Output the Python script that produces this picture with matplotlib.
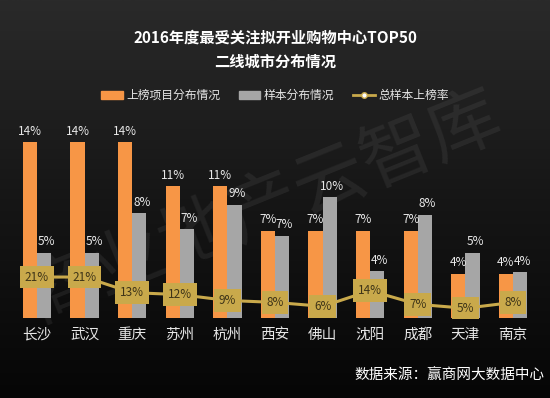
import numpy as np
import matplotlib
matplotlib.use("Agg")
from matplotlib import pyplot as plt
from matplotlib.patches import Patch
from matplotlib.lines import Line2D

plt.rcParams['font.family'] = ['Noto Sans CJK SC', 'DejaVu Sans']

cities = ['长沙', '武汉', '重庆', '苏州', '杭州', '西安', '佛山', '沈阳', '成都', '天津', '南京']
# 上榜项目分布情况 (%)
listed = [14.3, 14.3, 14.3, 10.7, 10.7, 7.1, 7.1, 7.1, 7.1, 3.6, 3.6]
# 样本分布情况 (%)
sample = [5.3, 5.3, 8.5, 7.2, 9.2, 6.7, 9.8, 3.8, 8.4, 5.3, 3.7]
# 总样本上榜率 (%)
rate = [21, 21, 13, 12, 9, 8, 6, 14, 7, 5, 8]

orange = '#F79646'
grey = '#A6A6A6'
gold = '#C9A94B'

fig = plt.figure(figsize=(5.5, 3.98), dpi=100)

# dark background gradient
bg = fig.add_axes([0, 0, 1, 1], zorder=-10)
grad = np.linspace(0, 1, 256).reshape(-1, 1)
bg.imshow(grad, aspect='auto', cmap=matplotlib.colors.LinearSegmentedColormap.from_list(
    'bgc', ['#2a2a2a', '#161616', '#060606']), extent=[0, 1, 0, 1])
bg.set_xlim(0, 1)
bg.set_ylim(0, 1)
bg.axis('off')
# watermark
bg.text(0.48, 0.48, '商业地产云智库', fontsize=52, color='#8a8a8a', alpha=0.13,
        rotation=22, ha='center', va='center')

ax = fig.add_axes([0.024, 0.201, 0.952, 0.495])
ax.set_facecolor('none')
x = np.arange(len(cities))
w = 0.3
ax.bar(x - w / 2, listed, w, color=orange, zorder=2)
ax.bar(x + w / 2, sample, w, color=grey, zorder=2)
for xi, v in zip(x, listed):
    ax.text(xi - w / 2, v + 0.35, '%d%%' % round(v), ha='center', va='bottom',
            fontsize=8.5, color='#e8e8e8')
for xi, v in zip(x, sample):
    ax.text(xi + w / 2 + 0.05, v + 0.35, '%d%%' % round(v), ha='center', va='bottom',
            fontsize=8.5, color='#e8e8e8')
ax.set_xlim(-0.5, len(cities) - 0.5)
ax.set_ylim(0, 16)
ax.set_xticks(x)
ax.set_xticklabels(cities, fontsize=10.5, color='#e6e6e6')
ax.tick_params(axis='x', length=0, pad=7)
ax.set_yticks([])
for s in ax.spines.values():
    s.set_visible(False)

ax2 = ax.twinx()
ax2.plot(x, rate, color=gold, lw=2.2, marker='o', ms=4, mfc='white', mec=gold, zorder=3)
for xi, v in zip(x, rate):
    ax2.text(xi, v, '%d%%' % v, ha='center', va='center', fontsize=8.5, color='#3e3418',
             zorder=5, bbox=dict(boxstyle='square,pad=0.4', fc=gold, ec='none'))
ax2.set_ylim(0, 101)
ax2.set_yticks([])
for s in ax2.spines.values():
    s.set_visible(False)

fig.text(0.5, 0.905, '2016年度最受关注拟开业购物中心TOP50', ha='center', va='center',
         fontsize=11, fontweight='bold', color='white')
fig.text(0.5, 0.845, '二线城市分布情况', ha='center', va='center',
         fontsize=11, fontweight='bold', color='white')

handles = [Patch(color=orange), Patch(color=grey),
           Line2D([], [], color=gold, lw=2, marker='o', ms=4, mfc='white', mec=gold)]
leg = fig.legend(handles, ['上榜项目分布情况', '样本分布情况', '总样本上榜率'],
                 loc='center', bbox_to_anchor=(0.5, 0.76), ncol=3, frameon=False,
                 fontsize=8.5, handlelength=1.8, handleheight=0.6, columnspacing=1.6,
                 handletextpad=0.3)
for t in leg.get_texts():
    t.set_color('#e6e6e6')

fig.text(0.99, 0.055, '数据来源：赢商网大数据中心', ha='right', va='center',
         fontsize=10.5, color='white')

fig.savefig('out.png', dpi=100)
